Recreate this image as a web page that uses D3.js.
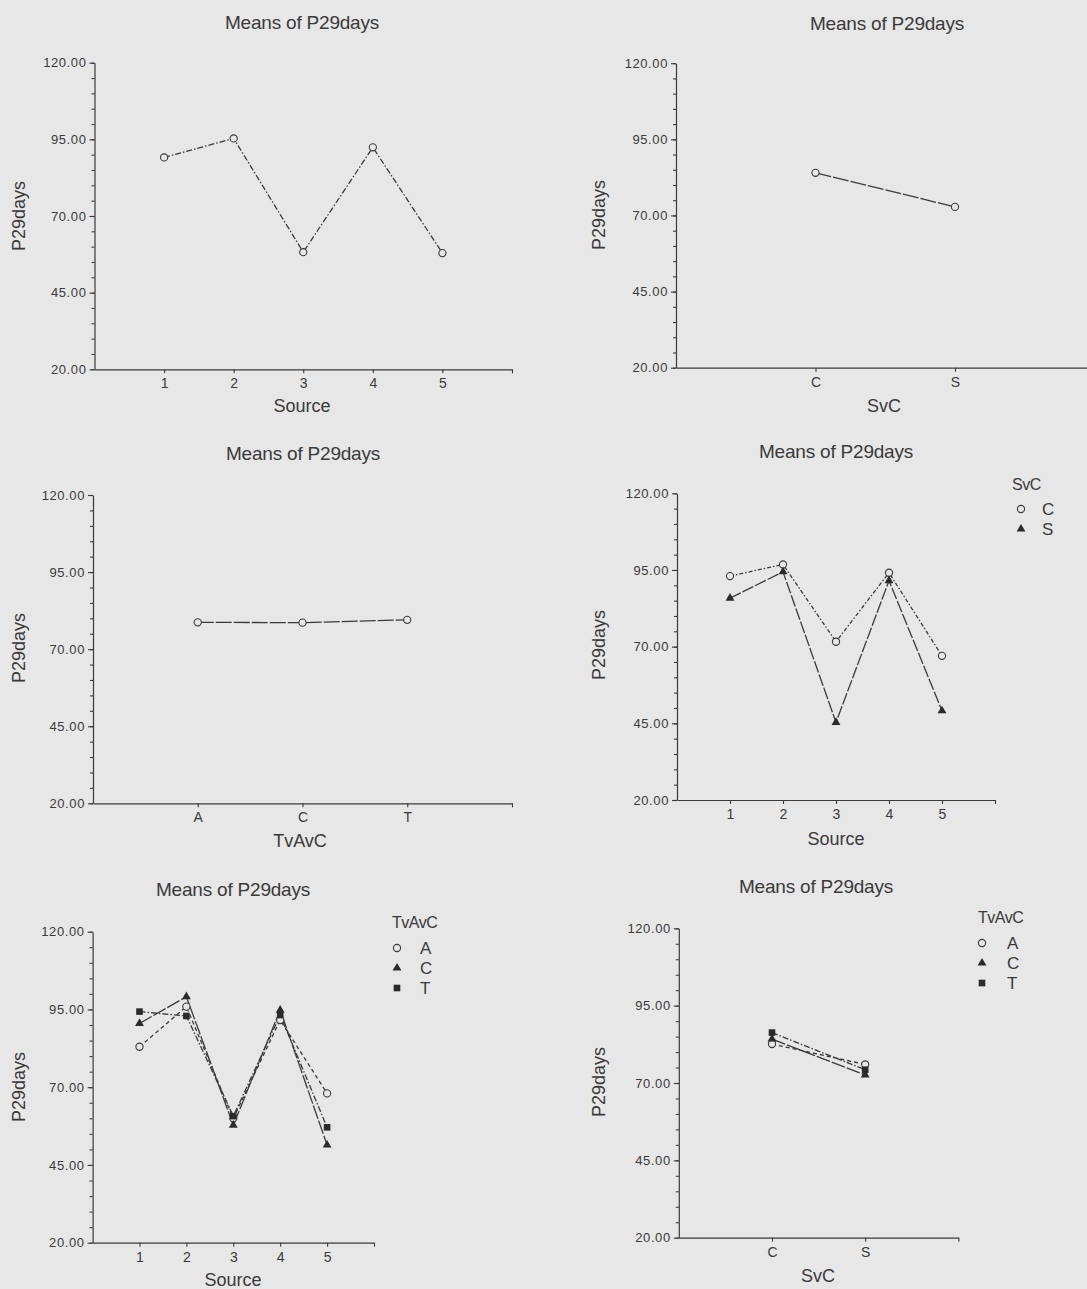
<!DOCTYPE html>
<html>
<head>
<meta charset="utf-8">
<script src="https://cdn.jsdelivr.net/npm/d3@7"></script>
<style>
  html, body { margin: 0; padding: 0; background: #e7e7e7; }
  svg { display: block; }
  text { font-family: "Liberation Sans", Arial, sans-serif; fill: #3a3a3a; }
</style>
</head>
<body>
<svg id="chart" width="1087" height="1289"></svg>
<script>
// Factor levels
const sourceLevels = ["1", "2", "3", "4", "5"];
const svcLevels = ["C", "S"];
const tvavcLevels = ["A", "C", "T"];

// Y axis tick values (major labelled every 25, minor every 5)
const yMajorTicks = [20, 45, 70, 95, 120];
const yMinorTicks = [20, 25, 30, 35, 40, 45, 50, 55, 60, 65, 70, 75, 80, 85, 90, 95, 100, 105, 110, 115, 120];

// Means of P29days by one factor
const meansBySource = [89.1, 95.3, 58.2, 92.4, 57.9];
const meansBySvC = [84.0, 72.8];
const meansByTvAvC = [78.7, 78.6, 79.5];

// Means of P29days by Source, split by SvC
const sourceSvC_C = [93.0, 96.8, 71.6, 94.1, 67.0];
const sourceSvC_S = [85.8, 94.4, 45.3, 91.5, 49.1];

// Means of P29days by Source, split by TvAvC
const sourceTvAvC_A = [83.0, 95.9, 60.0, 91.6, 68.0];
const sourceTvAvC_C = [90.5, 99.1, 57.8, 94.8, 51.4];
const sourceTvAvC_T = [94.3, 92.9, 60.7, 93.2, 57.1];

// Means of P29days by SvC, split by TvAvC
const svcTvAvC_A = [82.6, 76.0];
const svcTvAvC_C = [84.2, 72.6];
const svcTvAvC_T = [86.3, 74.3];

const titleText = "Means of P29days";
const yLabelText = "P29days";
const ink = "#3a3a3a";

const panels = [
  {
    levels: sourceLevels, xLabel: "Source",
    series: [{ name: "", values: meansBySource, marker: "circle", dash: "6,2,1.5,2" }],
    xRange: [94.5, 512], yRange: [369.3, 62.7],
    title: [302, 29], xLabelPos: [302, 412], yLabelPos: [19, 216]
  },
  {
    levels: svcLevels, xLabel: "SvC",
    series: [{ name: "", values: meansBySvC, marker: "circle", dash: "16,2" }],
    xRange: [676, 1094.5], yRange: [367.7, 63.2],
    title: [887, 30], xLabelPos: [884, 412], yLabelPos: [599, 215]
  },
  {
    levels: tvavcLevels, xLabel: "TvAvC",
    series: [{ name: "", values: meansByTvAvC, marker: "circle", dash: "16,2" }],
    xRange: [93, 512], yRange: [803.3, 495],
    title: [303, 460], xLabelPos: [300, 847], yLabelPos: [19, 648]
  },
  {
    levels: sourceLevels, xLabel: "Source",
    series: [
      { name: "C", values: sourceSvC_C, marker: "circle", dash: "4,2,1.5,2" },
      { name: "S", values: sourceSvC_S, marker: "triangle", dash: "12,2" }
    ],
    legendTitle: "SvC", legend: { titleX: 1012, titleY: 490, markX: 1021, textX: 1042, rowY: [509, 529] },
    xRange: [677, 995], yRange: [800, 493.3],
    title: [836, 458], xLabelPos: [836, 845], yLabelPos: [599, 645]
  },
  {
    levels: sourceLevels, xLabel: "Source",
    series: [
      { name: "A", values: sourceTvAvC_A, marker: "circle", dash: "4,3" },
      { name: "C", values: sourceTvAvC_C, marker: "triangle", dash: "14,2" },
      { name: "T", values: sourceTvAvC_T, marker: "square", dash: "6,2,1.5,2" }
    ],
    legendTitle: "TvAvC", legend: { titleX: 392, titleY: 928, markX: 397, textX: 420, rowY: [948, 968, 988] },
    xRange: [92.6, 374], yRange: [1242.7, 931.7],
    title: [233, 896], xLabelPos: [233, 1286], yLabelPos: [19, 1087]
  },
  {
    levels: svcLevels, xLabel: "SvC",
    series: [
      { name: "A", values: svcTvAvC_A, marker: "circle", dash: "4,3" },
      { name: "C", values: svcTvAvC_C, marker: "triangle", dash: "14,2" },
      { name: "T", values: svcTvAvC_T, marker: "square", dash: "6,2,1.5,2" }
    ],
    legendTitle: "TvAvC", legend: { titleX: 978, titleY: 923, markX: 982, textX: 1007, rowY: [943, 963, 983] },
    xRange: [678.8, 958.4], yRange: [1237.7, 928.3],
    title: [816, 893], xLabelPos: [818, 1282], yLabelPos: [599, 1082]
  }
];

const svg = d3.select("#chart");

function drawMarker(g, type, cx, cy) {
  if (type === "circle") {
    g.append("circle").attr("cx", cx).attr("cy", cy).attr("r", 3.6)
      .attr("fill", "#e7e7e7").attr("stroke", ink).attr("stroke-width", 1.1);
  } else if (type === "triangle") {
    g.append("path")
      .attr("d", d3.symbol().type(d3.symbolTriangle).size(34)())
      .attr("transform", `translate(${cx},${cy})`)
      .attr("fill", "#2a2a2a");
  } else {
    g.append("rect").attr("x", cx - 3.3).attr("y", cy - 3.3).attr("width", 6.6).attr("height", 6.6)
      .attr("fill", "#2a2a2a");
  }
}

panels.forEach(p => {
  const g = svg.append("g");
  const n = p.levels.length;
  const x = d3.scaleLinear().domain([0, n + 1]).range(p.xRange);
  const y = d3.scaleLinear().domain([20, 120]).range(p.yRange);

  // minor y ticks
  g.append("g")
    .attr("transform", `translate(${p.xRange[0]},0)`)
    .call(d3.axisLeft(y).tickValues(yMinorTicks).tickSize(3).tickSizeOuter(0).tickFormat(""))
    .call(a => a.select(".domain").remove());

  // major y ticks with labels
  const yAxis = g.append("g")
    .attr("transform", `translate(${p.xRange[0]},0)`)
    .call(d3.axisLeft(y).tickValues(yMajorTicks).tickSize(5).tickSizeOuter(0).tickPadding(3)
      .tickFormat(d3.format(".2f")));
  yAxis.selectAll("text").style("font-size", "13px").style("letter-spacing", "0.6px")
    .attr("fill", ink).attr("font-family", null);

  // x axis: category ticks plus a closing tick at the end of the axis
  const xTickVals = d3.range(1, n + 2);
  const xAxis = g.append("g")
    .attr("transform", `translate(0,${p.yRange[0]})`)
    .call(d3.axisBottom(x).tickValues(xTickVals).tickSize(4).tickSizeOuter(0)
      .tickFormat(d => d <= n ? p.levels[d - 1] : ""));
  xAxis.selectAll("text").attr("dy", null).attr("y", 19)
    .style("font-size", "14px").attr("fill", ink).attr("font-family", null);

  [yAxis, xAxis].forEach(a => {
    a.attr("font-family", null).attr("font-size", null);
    a.selectAll("line, path").attr("stroke", ink).attr("stroke-width", 1.2);
  });
  g.selectAll("line").attr("stroke", ink).attr("stroke-width", 1.1);

  // title and axis labels
  g.append("text").attr("x", p.title[0]).attr("y", p.title[1]).attr("text-anchor", "middle")
    .style("font-size", "19px").style("letter-spacing", "-0.2px").text(titleText);
  g.append("text").attr("x", p.xLabelPos[0]).attr("y", p.xLabelPos[1]).attr("text-anchor", "middle")
    .style("font-size", "18px").text(p.xLabel);
  g.append("text")
    .attr("transform", `translate(${p.yLabelPos[0] + 6},${p.yLabelPos[1]}) rotate(-90)`)
    .attr("text-anchor", "middle").style("font-size", "18px").text(yLabelText);

  // series lines and markers
  const line = d3.line().x((d, i) => x(i + 1)).y(d => y(d));
  p.series.forEach(s => {
    g.append("path").datum(s.values).attr("d", line)
      .attr("fill", "none").attr("stroke", ink).attr("stroke-width", 1.3)
      .attr("stroke-dasharray", s.dash);
  });
  p.series.forEach(s => {
    s.values.forEach((v, i) => drawMarker(g, s.marker, x(i + 1), y(v)));
  });

  // legend
  if (p.legend) {
    const L = p.legend;
    g.append("text").attr("x", L.titleX).attr("y", L.titleY).style("font-size", "16px")
      .style("letter-spacing", "-0.5px").text(p.legendTitle);
    p.series.forEach((s, i) => {
      drawMarker(g, s.marker, L.markX, L.rowY[i]);
      g.append("text").attr("x", L.textX).attr("y", L.rowY[i] + 6).style("font-size", "17px").text(s.name);
    });
  }
});
</script>
</body>
</html>
